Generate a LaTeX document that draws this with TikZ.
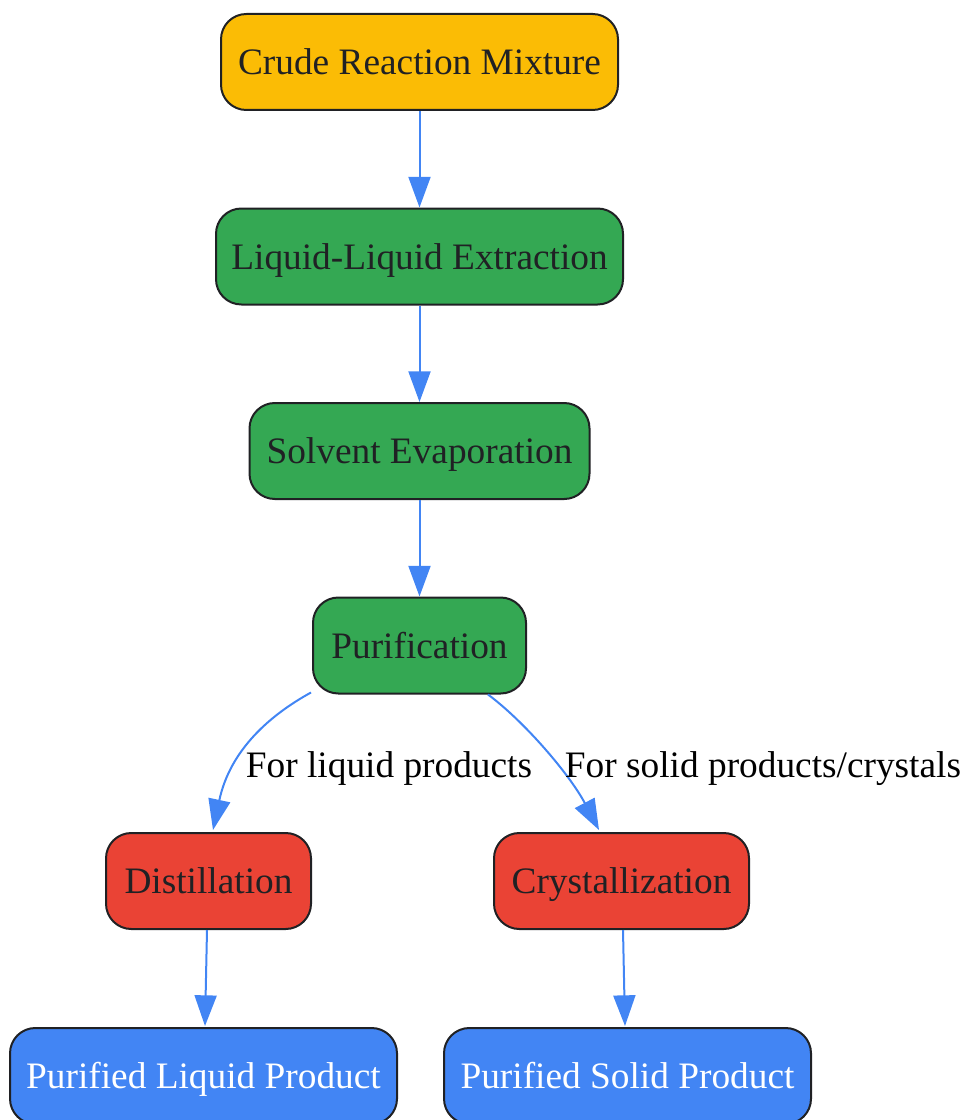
\documentclass[tikz,border=0pt]{standalone}
\usepackage{fontspec}
\setmainfont{Liberation Serif}
\usetikzlibrary{arrows.meta,calc}
\definecolor{cyellow}{HTML}{FBBC05}
\definecolor{cgreen}{HTML}{34A853}
\definecolor{cred}{HTML}{EA4335}
\definecolor{cblue}{HTML}{4285F4}
\definecolor{cborder}{HTML}{202124}
\definecolor{ctext}{HTML}{202124}
\begin{document}
\begin{tikzpicture}[x=0.75pt,y=-0.75pt,
  box/.style={draw=cborder,line width=1.5pt,rounded corners=19pt,
    minimum height=72pt,inner sep=0pt,align=center,text=ctext,
    text height=19.3pt,text depth=0pt,
    font=\fontsize{28pt}{33pt}\selectfont},
  ybox/.style={box,fill=cyellow},
  gbox/.style={box,fill=cgreen},
  rbox/.style={box,fill=cred},
  bbox/.style={box,fill=cblue,text=white},
  edge/.style={draw=cblue,line width=1.5pt,-{Triangle[length=23pt,width=16.5pt]}},
  elabel/.style={text=black,inner sep=0pt,text height=19.3pt,text depth=0pt,
    font=\fontsize{28pt}{33pt}\selectfont}]
\path[use as bounding box] (0,0) rectangle (963,1120);
\clip (0,0) rectangle (963,1120);
\node[ybox,minimum width=297.75pt] (crude) at (419.5,62) {Crude Reaction Mixture};
\node[gbox,minimum width=305.25pt] (lle) at (419.5,256.5) {Liquid-Liquid Extraction};
\node[gbox,minimum width=255pt] (solv) at (419.5,451) {Solvent Evaporation};
\node[gbox,minimum width=159.75pt] (pur) at (419.5,645.5) {Purification};
\node[rbox,minimum width=153.75pt] (dist) at (208.5,881) {Distillation};
\node[rbox,minimum width=191.25pt] (cry) at (621.5,881) {Crystallization};
\node[bbox,minimum width=290.25pt] (liq) at (203.5,1076) {Purified Liquid Product};
\node[bbox,minimum width=275.25pt] (sol) at (627.5,1076) {Purified Solid Product};
\draw[edge] (crude) -- (lle);
\draw[edge] (lle) -- (solv);
\draw[edge] (solv) -- (pur);
\coordinate (l1) at ($(pur.south west)+(-1,-2)$);
\coordinate (l2) at ($(dist.north)+(4.5,-2)$);
\coordinate (r1) at ($(pur.south east)+(-39,0)$);
\coordinate (r2) at ($(cry.north)+(-22.5,-2)$);
\draw[edge] (l1) .. controls (270,715) and (230,750) .. (l2);
\draw[edge] (r1) .. controls (525,722) and (570,775) .. (r2);
\draw[edge] ($(dist.south)+(-1.5,0)$) -- ($(liq.north)+(1.5,-1)$);
\draw[edge] ($(cry.south)+(1.5,0)$) -- ($(sol.north)+(-2.5,-1)$);
\node[elabel] (lab1) at (389,765) {For liquid products};
\node[elabel] (lab2) at (763,765) {For solid products/crystals};
\end{tikzpicture}
\end{document}
